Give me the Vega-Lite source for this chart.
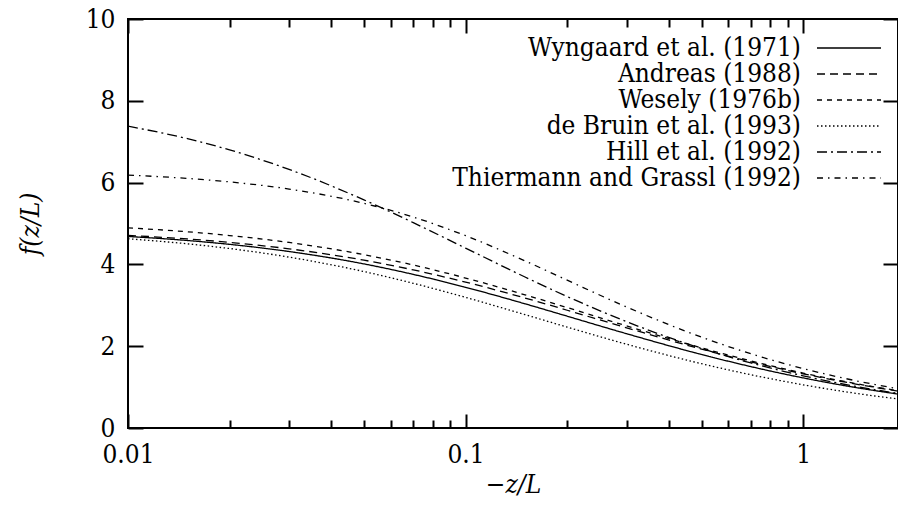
{
  "$schema": "https://vega.github.io/schema/vega-lite/v6.json",
  "width": 770,
  "height": 409,
  "autosize": "none",
  "padding": {"left": 128, "top": 19, "right": 0, "bottom": 79},
  "config": {
    "view": {"stroke": "black", "strokeWidth": 2},
    "font": "DejaVu Serif Condensed, DejaVu Serif",
    "axis": {"labelFont": "DejaVu Serif Condensed, DejaVu Serif", "titleFont": "DejaVu Serif Condensed, DejaVu Serif", "labelColor": "black", "titleColor": "black", "tickColor": "black", "labelFontSize": 26, "titleFontSize": 26, "titleFontWeight": "normal", "grid": false, "domain": false},
    "legend": {"labelFont": "DejaVu Serif Condensed, DejaVu Serif", "labelColor": "black"}
  },
  "data": {"values": [
    {"model": "Wyngaard et al. (1971)", "x": 0.01, "f": 4.684},
    {"model": "Wyngaard et al. (1971)", "x": 0.015, "f": 4.584},
    {"model": "Wyngaard et al. (1971)", "x": 0.02, "f": 4.490},
    {"model": "Wyngaard et al. (1971)", "x": 0.03, "f": 4.315},
    {"model": "Wyngaard et al. (1971)", "x": 0.05, "f": 4.012},
    {"model": "Wyngaard et al. (1971)", "x": 0.07, "f": 3.756},
    {"model": "Wyngaard et al. (1971)", "x": 0.1, "f": 3.440},
    {"model": "Wyngaard et al. (1971)", "x": 0.15, "f": 3.037},
    {"model": "Wyngaard et al. (1971)", "x": 0.2, "f": 2.734},
    {"model": "Wyngaard et al. (1971)", "x": 0.3, "f": 2.305},
    {"model": "Wyngaard et al. (1971)", "x": 0.5, "f": 1.798},
    {"model": "Wyngaard et al. (1971)", "x": 0.7, "f": 1.501},
    {"model": "Wyngaard et al. (1971)", "x": 1, "f": 1.225},
    {"model": "Wyngaard et al. (1971)", "x": 1.5, "f": 0.962},
    {"model": "Wyngaard et al. (1971)", "x": 1.91, "f": 0.829},
    {"model": "Andreas (1988)", "x": 0.01, "f": 4.710},
    {"model": "Andreas (1988)", "x": 0.015, "f": 4.622},
    {"model": "Andreas (1988)", "x": 0.02, "f": 4.538},
    {"model": "Andreas (1988)", "x": 0.03, "f": 4.381},
    {"model": "Andreas (1988)", "x": 0.05, "f": 4.103},
    {"model": "Andreas (1988)", "x": 0.07, "f": 3.866},
    {"model": "Andreas (1988)", "x": 0.1, "f": 3.567},
    {"model": "Andreas (1988)", "x": 0.15, "f": 3.178},
    {"model": "Andreas (1988)", "x": 0.2, "f": 2.879},
    {"model": "Andreas (1988)", "x": 0.3, "f": 2.449},
    {"model": "Andreas (1988)", "x": 0.5, "f": 1.929},
    {"model": "Andreas (1988)", "x": 0.7, "f": 1.618},
    {"model": "Andreas (1988)", "x": 1, "f": 1.326},
    {"model": "Andreas (1988)", "x": 1.5, "f": 1.045},
    {"model": "Andreas (1988)", "x": 1.91, "f": 0.903},
    {"model": "Wesely (1976b)", "x": 0.01, "f": 4.893},
    {"model": "Wesely (1976b)", "x": 0.015, "f": 4.798},
    {"model": "Wesely (1976b)", "x": 0.02, "f": 4.706},
    {"model": "Wesely (1976b)", "x": 0.03, "f": 4.536},
    {"model": "Wesely (1976b)", "x": 0.05, "f": 4.238},
    {"model": "Wesely (1976b)", "x": 0.07, "f": 3.985},
    {"model": "Wesely (1976b)", "x": 0.1, "f": 3.667},
    {"model": "Wesely (1976b)", "x": 0.15, "f": 3.256},
    {"model": "Wesely (1976b)", "x": 0.2, "f": 2.944},
    {"model": "Wesely (1976b)", "x": 0.3, "f": 2.496},
    {"model": "Wesely (1976b)", "x": 0.5, "f": 1.959},
    {"model": "Wesely (1976b)", "x": 0.7, "f": 1.641},
    {"model": "Wesely (1976b)", "x": 1, "f": 1.343},
    {"model": "Wesely (1976b)", "x": 1.5, "f": 1.057},
    {"model": "Wesely (1976b)", "x": 1.91, "f": 0.912},
    {"model": "de Bruin et al. (1993)", "x": 0.01, "f": 4.627},
    {"model": "de Bruin et al. (1993)", "x": 0.015, "f": 4.503},
    {"model": "de Bruin et al. (1993)", "x": 0.02, "f": 4.388},
    {"model": "de Bruin et al. (1993)", "x": 0.03, "f": 4.178},
    {"model": "de Bruin et al. (1993)", "x": 0.05, "f": 3.825},
    {"model": "de Bruin et al. (1993)", "x": 0.07, "f": 3.538},
    {"model": "de Bruin et al. (1993)", "x": 0.1, "f": 3.194},
    {"model": "de Bruin et al. (1993)", "x": 0.15, "f": 2.772},
    {"model": "de Bruin et al. (1993)", "x": 0.2, "f": 2.467},
    {"model": "de Bruin et al. (1993)", "x": 0.3, "f": 2.048},
    {"model": "de Bruin et al. (1993)", "x": 0.5, "f": 1.572},
    {"model": "de Bruin et al. (1993)", "x": 0.7, "f": 1.302},
    {"model": "de Bruin et al. (1993)", "x": 1, "f": 1.056},
    {"model": "de Bruin et al. (1993)", "x": 1.5, "f": 0.824},
    {"model": "de Bruin et al. (1993)", "x": 1.91, "f": 0.709},
    {"model": "Hill et al. (1992)", "x": 0.01, "f": 7.379},
    {"model": "Hill et al. (1992)", "x": 0.015, "f": 7.075},
    {"model": "Hill et al. (1992)", "x": 0.02, "f": 6.800},
    {"model": "Hill et al. (1992)", "x": 0.03, "f": 6.323},
    {"model": "Hill et al. (1992)", "x": 0.05, "f": 5.578},
    {"model": "Hill et al. (1992)", "x": 0.07, "f": 5.020},
    {"model": "Hill et al. (1992)", "x": 0.1, "f": 4.398},
    {"model": "Hill et al. (1992)", "x": 0.15, "f": 3.692},
    {"model": "Hill et al. (1992)", "x": 0.2, "f": 3.215},
    {"model": "Hill et al. (1992)", "x": 0.3, "f": 2.599},
    {"model": "Hill et al. (1992)", "x": 0.5, "f": 1.945},
    {"model": "Hill et al. (1992)", "x": 0.7, "f": 1.590},
    {"model": "Hill et al. (1992)", "x": 1, "f": 1.276},
    {"model": "Hill et al. (1992)", "x": 1.5, "f": 0.987},
    {"model": "Hill et al. (1992)", "x": 1.91, "f": 0.846},
    {"model": "Thiermann and Grassl (1992)", "x": 0.01, "f": 6.184},
    {"model": "Thiermann and Grassl (1992)", "x": 0.015, "f": 6.102},
    {"model": "Thiermann and Grassl (1992)", "x": 0.02, "f": 6.017},
    {"model": "Thiermann and Grassl (1992)", "x": 0.03, "f": 5.843},
    {"model": "Thiermann and Grassl (1992)", "x": 0.05, "f": 5.493},
    {"model": "Thiermann and Grassl (1992)", "x": 0.07, "f": 5.158},
    {"model": "Thiermann and Grassl (1992)", "x": 0.1, "f": 4.703},
    {"model": "Thiermann and Grassl (1992)", "x": 0.15, "f": 4.086},
    {"model": "Thiermann and Grassl (1992)", "x": 0.2, "f": 3.614},
    {"model": "Thiermann and Grassl (1992)", "x": 0.3, "f": 2.958},
    {"model": "Thiermann and Grassl (1992)", "x": 0.5, "f": 2.222},
    {"model": "Thiermann and Grassl (1992)", "x": 0.7, "f": 1.815},
    {"model": "Thiermann and Grassl (1992)", "x": 1, "f": 1.454},
    {"model": "Thiermann and Grassl (1992)", "x": 1.5, "f": 1.122},
    {"model": "Thiermann and Grassl (1992)", "x": 1.91, "f": 0.960}
  ]},
  "layer": [
    {
      "mark": {"type": "line", "color": "black", "strokeWidth": 1.3, "interpolate": "monotone", "clip": true},
      "encoding": {
        "x": {"field": "x", "type": "quantitative", "scale": {"type": "log", "domain": [0.01, 1.91], "nice": false},
          "axis": {"orient": "bottom", "values": [0.01, 0.1, 1], "format": ".2~f", "ticks": false, "labelPadding": 13, "title": "−z/L", "titleFontStyle": "italic", "titlePadding": 4, "labelFlush": false}},
        "y": {"field": "f", "type": "quantitative", "scale": {"domain": [0, 10], "nice": false},
          "axis": {"orient": "left", "values": [0, 2, 4, 6, 8, 10], "ticks": false, "labelPadding": 13, "title": "f(z/L)", "titleFontStyle": "italic", "titlePadding": 42}},
        "strokeDash": {"field": "model", "type": "nominal",
          "scale": {"domain": ["Wyngaard et al. (1971)", "Andreas (1988)", "Wesely (1976b)", "de Bruin et al. (1993)", "Hill et al. (1992)", "Thiermann and Grassl (1992)"],
            "range": [[1, 0], [8, 5], [5, 5], [1.5, 2.5], [10, 4, 2, 4], [6, 5, 1.5, 5]]},
          "legend": {"title": null, "orient": "none", "legendX": 708, "legendY": 16, "padding": 0, "symbolType": "M-4,0H4", "symbolSize": 256, "symbolStrokeWidth": 1.3, "symbolStrokeColor": "black", "symbolFillColor": "transparent", "labelAlign": "right", "labelOffset": -61, "labelFontSize": 26, "labelLimit": 500, "rowPadding": -3}}
      }
    },
    {
      "mark": {"type": "line", "opacity": 0},
      "encoding": {
        "x": {"field": "x", "type": "quantitative",
          "axis": {"orient": "bottom", "values": [0.01, 0.02, 0.03, 0.04, 0.05, 0.06, 0.07, 0.08, 0.09, 0.1, 0.2, 0.3, 0.4, 0.5, 0.6, 0.7, 0.8, 0.9, 1], "labels": false, "title": null, "tickWidth": 2,
            "tickSize": {"condition": {"test": "datum.value == 0.01 || datum.value == 0.1 || datum.value == 1", "value": -14}, "value": -8}}},
        "y": {"field": "f", "type": "quantitative",
          "axis": {"orient": "left", "values": [0, 2, 4, 6, 8, 10], "labels": false, "title": null, "tickSize": -15, "tickWidth": 2}},
        "detail": {"field": "model"}
      }
    },
    {
      "mark": {"type": "line", "opacity": 0},
      "encoding": {
        "x": {"field": "x", "type": "quantitative",
          "axis": {"orient": "top", "values": [0.01, 0.02, 0.03, 0.04, 0.05, 0.06, 0.07, 0.08, 0.09, 0.1, 0.2, 0.3, 0.4, 0.5, 0.6, 0.7, 0.8, 0.9, 1], "labels": false, "title": null, "tickWidth": 2,
            "tickSize": {"condition": {"test": "datum.value == 0.01 || datum.value == 0.1 || datum.value == 1", "value": -14}, "value": -8}}},
        "y": {"field": "f", "type": "quantitative",
          "axis": {"orient": "right", "values": [0, 2, 4, 6, 8, 10], "labels": false, "title": null, "tickSize": -15, "tickWidth": 2}},
        "detail": {"field": "model"}
      }
    }
  ],
  "resolve": {"axis": {"x": "independent", "y": "independent"}}
}
